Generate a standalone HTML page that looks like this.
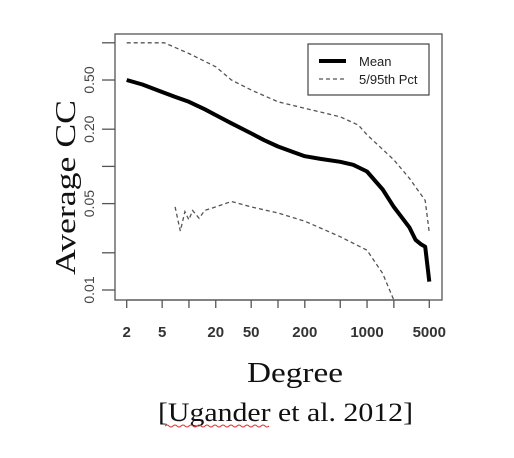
<!DOCTYPE html>
<html><head><meta charset="utf-8"><style>
body{margin:0;background:#fff;}
svg{display:block;}
</style></head><body>
<svg id="chart" width="514" height="458" viewBox="0 0 514 458" xmlns="http://www.w3.org/2000/svg">
<rect x="0" y="0" width="514" height="458" fill="#fff"/>
<rect x="115" y="34" width="327" height="266" fill="none" stroke="#555" stroke-width="1.3"/>
<g id="axes"></g>
<g id="series"></g>
<g>
<rect x="308" y="44" width="121" height="51" fill="#fff" stroke="#444" stroke-width="1.2"/>
<line x1="319" y1="61" x2="346" y2="61" stroke="#000" stroke-width="4"/>
<text x="359" y="66" font-family="Liberation Sans, sans-serif" font-size="13" fill="#222">Mean</text>
<line x1="319" y1="79" x2="346" y2="79" stroke="#555" stroke-width="1.3" stroke-dasharray="4,3"/>
<text x="359" y="84" font-family="Liberation Sans, sans-serif" font-size="13" fill="#222">5/95th Pct</text>
</g>
<text transform="translate(75,275) rotate(-90)" font-family="Liberation Serif, serif" font-size="28" textLength="175" lengthAdjust="spacingAndGlyphs" fill="#111">Average CC</text>
<text x="247" y="382" font-family="Liberation Serif, serif" font-size="28" textLength="96" lengthAdjust="spacingAndGlyphs" fill="#111">Degree</text>
<text x="158" y="421" font-family="Liberation Serif, serif" font-size="26" textLength="255" lengthAdjust="spacingAndGlyphs" fill="#111">[Ugander et al. 2012]</text>
<path d="M165 426 q2 -2 4 0 t4 0 t4 0 t4 0 t4 0 t4 0 t4 0 t4 0 t4 0 t4 0 t4 0 t4 0 t4 0 t4 0 t4 0 t4 0 t4 0 t4 0 t4 0 t4 0 t4 0 t4 0 t4 0 t4 0 t4 0 t4 0" fill="none" stroke="#d33" stroke-width="1"/>
</svg>
<script>
const xTicks=[2,5,10,20,50,100,200,500,1000,2000,5000];
const xTickLabels=["2","5","","20","50","","200","","1000","","5000"];
const yTicks=[0.01,0.02,0.05,0.1,0.2,0.5,1];
const yTickLabels=["0.01","","0.05","","0.20","0.50",""];
const meanDeg=[2,3,5,7,10,15,20,30,50,70,100,150,200,300,500,700,1000,1500,2000,2500,3000,3500,4000,4500,5000];
const meanCC=[0.5,0.46,0.40,0.365,0.333,0.29,0.26,0.223,0.185,0.163,0.145,0.13,0.121,0.115,0.109,0.103,0.091,0.065,0.047,0.038,0.032,0.0255,0.0235,0.0224,0.0117];
const upDeg=[2,5.3,10,20,30,50,100,200,500,800,1000,2000,3000,4500,5000];
const upCC=[1.0,1.0,0.82,0.64,0.50,0.415,0.333,0.295,0.252,0.216,0.18,0.113,0.08,0.053,0.029];
const loDeg=[7,8,9,10,11,13,15,20,30,50,100,200,500,1000,1500,2000];
const loCC=[0.047,0.030,0.043,0.037,0.044,0.038,0.044,0.047,0.052,0.047,0.042,0.036,0.027,0.021,0.0136,0.0083];

const NS="http://www.w3.org/2000/svg";
function xs(d){return 126.7+(Math.log10(d)-Math.log10(2))*89.05;}
function ys(v){return 290-(Math.log10(v)+2)*123.6;}
const axes=document.getElementById('axes');
const ser=document.getElementById('series');
function mk(tag,attrs,parent){const e=document.createElementNS(NS,tag);for(const k in attrs)e.setAttribute(k,attrs[k]);parent.appendChild(e);return e;}

let xl=mk('line',{x1:xs(xTicks[0]),x2:xs(xTicks[xTicks.length-1]),y1:300,y2:300,stroke:'#555','stroke-width':1.3},axes);


xTicks.forEach((t,i)=>{
  const l=mk('line',{x1:xs(t),x2:xs(t),y1:300,y2:308,stroke:'#555','stroke-width':1.3},axes);
  
  
  if(xTickLabels[i]){
    const tx=mk('text',{x:xs(t),y:337,'text-anchor':'middle','font-family':'Liberation Sans, sans-serif','font-size':15,'font-weight':'bold',fill:'#333'},axes);
    tx.textContent=xTickLabels[i];
    
    
  }
});
yTicks.forEach((t,i)=>{
  const l=mk('line',{x1:102,x2:115,y1:ys(t),y2:ys(t),stroke:'#555','stroke-width':1.3},axes);
  
  
  if(yTickLabels[i]){
    const tx=mk('text',{transform:`translate(94,${ys(t)}) rotate(-90)`,'text-anchor':'middle','font-family':'Liberation Sans, sans-serif','font-size':14,fill:'#444'},axes);
    tx.textContent=yTickLabels[i];
    
    
  }
});
function path(ds,vs){return ds.map((d,i)=>(i?'L':'M')+xs(d).toFixed(1)+' '+ys(vs[i]).toFixed(1)).join(' ');}
const clip=mk('clipPath',{id:'pc'},document.getElementById('chart'));
mk('rect',{x:115,y:34,width:327,height:266},clip);
let up=mk('path',{d:path(upDeg,upCC),fill:'none',stroke:'#555','stroke-width':1.3,'stroke-dasharray':'4,3','clip-path':'url(#pc)'},ser);


let lo=mk('path',{d:path(loDeg,loCC),fill:'none',stroke:'#555','stroke-width':1.3,'stroke-dasharray':'4,3','clip-path':'url(#pc)'},ser);


let mn=mk('path',{d:path(meanDeg,meanCC),fill:'none',stroke:'#000','stroke-width':4,'stroke-linejoin':'round'},ser);


</script>
</body></html>
